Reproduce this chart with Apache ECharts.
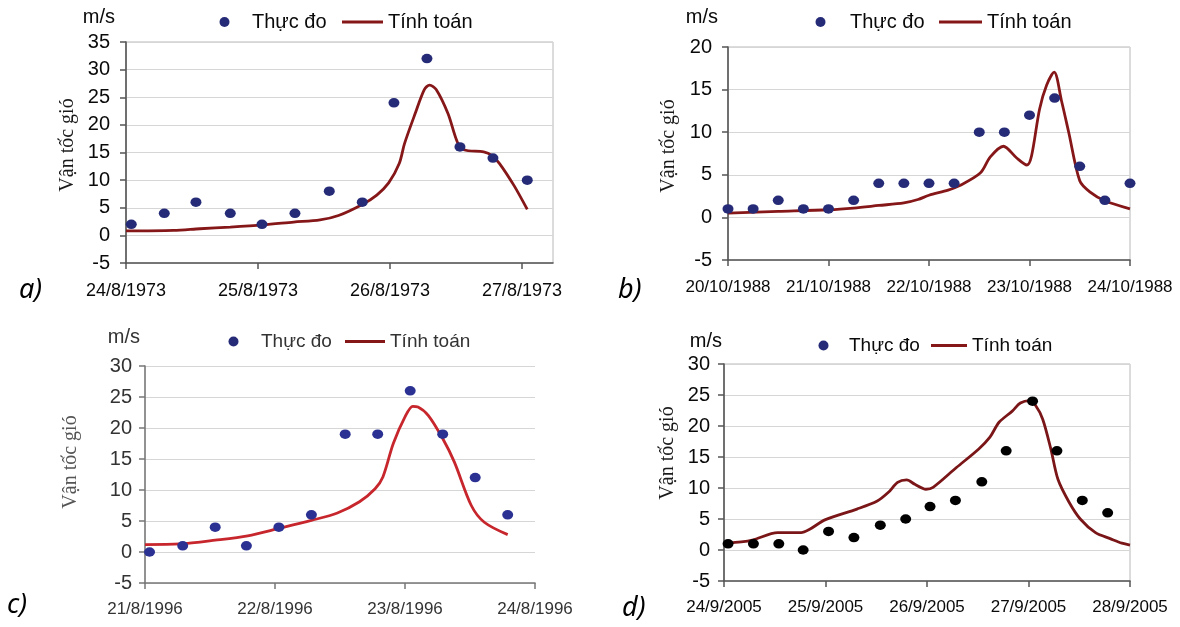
<!DOCTYPE html>
<html>
<head>
<meta charset="utf-8">
<script src="https://cdn.jsdelivr.net/npm/echarts@6/dist/echarts.min.js"></script>
<style>
  html, body { margin: 0; padding: 0; background: #fff; }
  #chart { width: 1180px; height: 627px; }
</style>
</head>
<body>
<div id="chart"></div>
<script>
// x values are days counted from the first date on each axis

// a) 24/8/1973
var datesA = ['24/8/1973', '25/8/1973', '26/8/1973', '27/8/1973']
var obsDayA = [0.04, 0.29, 0.53, 0.79, 1.03, 1.28, 1.54, 1.79, 2.03, 2.28, 2.53, 2.78, 3.04]
var obsA = [2, 4, 6, 4, 2, 4, 8, 6, 24, 32, 16, 14, 10]
var calcDayA = [0, 0.36, 0.56, 0.79, 1.04, 1.27, 1.47, 1.61, 1.79, 1.9, 1.99, 2.07, 2.11, 2.19, 2.26, 2.30, 2.35, 2.44, 2.51, 2.56, 2.71, 2.77, 2.83, 2.94, 3.04]
var calcA = [0.8, 0.9, 1.2, 1.5, 1.9, 2.4, 2.8, 3.6, 5.6, 7.3, 9.5, 13, 16.6, 22, 26.4, 27.2, 26.4, 22, 16.9, 15.5, 15.1, 14.5, 13, 9, 4.7]

// b) 20/10/1988
var datesB = ['20/10/1988', '21/10/1988', '22/10/1988', '23/10/1988', '24/10/1988']
var obsDayB = [0, 0.25, 0.5, 0.75, 1, 1.25, 1.5, 1.75, 2, 2.25, 2.5, 2.75, 3, 3.25, 3.5, 3.75, 4]
var obsB = [1, 1, 2, 1, 1, 2, 4, 4, 4, 4, 10, 10, 12, 14, 6, 2, 4]
var calcDayB = [0, 0.5, 1.0, 1.25, 1.5, 1.75, 1.89, 2.0, 2.19, 2.3, 2.51, 2.61, 2.74, 2.87, 2.975, 3.02, 3.1, 3.17, 3.245, 3.32, 3.39, 3.5, 3.6, 3.75, 4.0]
var calcB = [0.5, 0.7, 0.9, 1.1, 1.4, 1.7, 2.1, 2.6, 3.2, 3.7, 5.2, 7.1, 8.35, 7.0, 6.15, 7.2, 12.7, 15.5, 17.05, 13.6, 10, 4.3, 3.0, 1.95, 1.0]

// c) 21/8/1996
var datesC = ['21/8/1996', '22/8/1996', '23/8/1996', '24/8/1996']
var obsDayC = [0.035, 0.29, 0.54, 0.78, 1.03, 1.28, 1.54, 1.79, 2.04, 2.29, 2.54, 2.79]
var obsC = [0, 1, 4, 1, 4, 6, 19, 19, 26, 19, 12, 6]
var calcDayC = [0, 0.27, 0.54, 0.79, 1.03, 1.28, 1.48, 1.65, 1.77, 1.83, 1.91, 2.0, 2.06, 2.1, 2.18, 2.29, 2.38, 2.51, 2.61, 2.79]
var calcC = [1.2, 1.3, 1.9, 2.6, 3.8, 5.1, 6.3, 8.1, 10.2, 12.1, 17.5, 21.8, 23.5, 23.4, 22, 18.3, 14.5, 7.5, 4.8, 2.8]

// d) 24/9/2005
var datesD = ['24/9/2005', '25/9/2005', '26/9/2005', '27/9/2005', '28/9/2005']
var obsDayD = [0.04, 0.29, 0.54, 0.78, 1.03, 1.28, 1.54, 1.79, 2.03, 2.28, 2.54, 2.78, 3.04, 3.28, 3.53, 3.78]
var obsD = [1, 1, 1, 0, 3, 2, 4, 5, 7, 8, 11, 16, 24, 16, 8, 6]
var calcDayD = [0.02, 0.17, 0.28, 0.53, 0.76, 0.84, 1.0, 1.31, 1.51, 1.62, 1.71, 1.8, 1.88, 1.99, 2.06, 2.29, 2.51, 2.62, 2.71, 2.84, 2.92, 3.01, 3.07, 3.14, 3.22, 3.29, 3.4, 3.51, 3.66, 3.81, 3.92, 4.0]
var calcD = [1.1, 1.3, 1.6, 2.8, 2.8, 3.3, 4.9, 6.6, 7.9, 9.3, 10.9, 11.3, 10.6, 9.8, 10.1, 13.3, 16.3, 18.2, 20.6, 22.4, 23.7, 24.1, 23.3, 21.1, 16.3, 11.4, 7.7, 5.0, 2.8, 1.8, 1.1, 0.8]

var OBS = 'Thực đo'
var CALC = 'Tính toán'
var SANS = 'Liberation Sans'

function zip (xs, ys) {
  return xs.map(function (x, i) { return [x, ys[i]] })
}

// layout of the four panels
var panels = [
  { dates: datesA, obsX: obsDayA, obs: obsA, calcX: calcDayA, calc: calcA,
    grid: { left: 126, top: 42, width: 427, height: 221 }, border: 1,
    xMax: 3.235, yMax: 35, xMargin: 19, yMargin: 16, xfs: 18, yfs: 20, text: '#0a0a0a', axis: '#555',
    dot: '#252b77', line: '#861719', fs: 20,
    leg: { top: 17, dot: 220, pad: 17, line: 337, lw: 41 },
    unit: [115, 17], title: [68, 145], letter: ['a)', 19, 290] },
  { dates: datesB, obsX: obsDayB, obs: obsB, calcX: calcDayB, calc: calcB,
    grid: { left: 728, top: 47, width: 402, height: 213 }, border: 1,
    xMax: 4, yMax: 20, xMargin: 19, yMargin: 16, xfs: 17, yfs: 20, text: '#0a0a0a', axis: '#555',
    dot: '#252b77', line: '#861719', fs: 20,
    leg: { top: 17, dot: 816, pad: 19, line: 934, lw: 43 },
    unit: [718, 17], title: [669, 146], letter: ['b)', 618, 290] },
  { dates: datesC, obsX: obsDayC, obs: obsC, calcX: calcDayC, calc: calcC,
    grid: { left: 145, top: 366, width: 390, height: 217 }, border: 0,
    xMax: 3, yMax: 30, xMargin: 18, yMargin: 13, xfs: 17, yfs: 20, text: '#333', axis: '#777',
    dot: '#2b3192', line: '#c6262c', fs: 19,
    leg: { top: 337, dot: 229, pad: 17, line: 340, lw: 40 },
    unit: [140, 337], title: [71, 462], letter: ['c)', 7, 605] },
  { dates: datesD, obsX: obsDayD, obs: obsD, calcX: calcDayD, calc: calcD,
    grid: { left: 724, top: 364, width: 406, height: 217 }, border: 1,
    xMax: 4, yMax: 30, xMargin: 18, yMargin: 14, xfs: 17, yfs: 20, text: '#0a0a0a', axis: '#555',
    dot: '#000', line: '#7a1618', fs: 19,
    leg: { top: 341, dot: 819, pad: 15, line: 926, lw: 36 },
    unit: [722, 341], title: [668, 453], letter: ['d)', 622, 608] }
]

var option = {
  animation: false,
  backgroundColor: '#fff',
  textStyle: { fontFamily: SANS },
  grid: [], xAxis: [], yAxis: [], series: [], legend: [], graphic: []
}

panels.forEach(function (p, i) {
  var ticks = p.dates.map(function (d, k) { return k })
  option.grid.push(Object.assign({
    show: p.border > 0,
    borderColor: '#b8b8b8',
    borderWidth: p.border
  }, p.grid))

  option.xAxis.push({
    type: 'value',
    gridIndex: i,
    min: 0,
    max: p.xMax,
    interval: 1,
    axisLine: { onZero: false, lineStyle: { color: p.axis, width: 1.6 } },
    axisTick: { customValues: ticks, length: 6, lineStyle: { color: p.axis, width: 1.5 } },
    axisLabel: {
      customValues: ticks,
      margin: p.xMargin,
      fontSize: p.xfs,
      color: p.text,
      formatter: function (v) { return p.dates[Math.round(v)] || '' }
    },
    splitLine: { show: false }
  })

  option.yAxis.push({
    type: 'value',
    gridIndex: i,
    min: -5,
    max: p.yMax,
    interval: 5,
    axisLine: { show: true, lineStyle: { color: p.axis, width: 1.6 } },
    axisTick: { show: true, length: 6, lineStyle: { color: p.axis, width: 1.5 } },
    axisLabel: { margin: p.yMargin, fontSize: p.yfs, color: p.text },
    splitLine: { lineStyle: { color: '#d6d6d6', width: 1.2 } }
  })

  option.series.push({
    name: CALC,
    type: 'line',
    xAxisIndex: i,
    yAxisIndex: i,
    data: zip(p.calcX, p.calc),
    symbol: 'none',
    smooth: 0.3,
    itemStyle: { color: p.line },
    lineStyle: { color: p.line, width: 2.8 },
    z: 2
  })
  option.series.push({
    name: OBS,
    type: 'scatter',
    xAxisIndex: i,
    yAxisIndex: i,
    data: zip(p.obsX, p.obs),
    symbolSize: [11, 9.5],
    itemStyle: { color: p.dot, opacity: 1 },
    z: 3
  })

  // two legends per panel so dot and line keys can have different sizes
  option.legend.push({
    data: [{ name: OBS, icon: 'circle' }],
    left: p.leg.dot - 5.5,
    top: p.leg.top - 10,
    itemWidth: 11,
    itemHeight: 10,
    selectedMode: false,
    textStyle: { fontSize: p.fs, color: p.text, padding: [0, 0, 0, p.leg.pad] }
  })
  option.legend.push({
    data: [{ name: CALC, icon: 'rect' }],
    left: p.leg.line,
    top: p.leg.top - 10,
    itemWidth: p.leg.lw,
    itemHeight: 3,
    selectedMode: false,
    textStyle: { fontSize: p.fs, color: p.text }
  })

  option.graphic.push({
    type: 'text', x: p.unit[0], y: p.unit[1],
    style: { text: 'm/s', fontSize: 20, fontFamily: SANS, fill: p.text, align: 'right', verticalAlign: 'middle' }
  })
  option.graphic.push({
    type: 'text', x: p.title[0], y: p.title[1], rotation: Math.PI / 2,
    style: { text: 'Vận tốc gió', fontSize: 20, fontFamily: 'Liberation Serif', fill: i === 2 ? '#555' : '#1a1a1a', align: 'center', verticalAlign: 'middle' }
  })
  option.graphic.push({
    type: 'text', x: p.letter[1], y: p.letter[2],
    style: { text: p.letter[0], fontSize: 27, fontStyle: 'italic', fontFamily: 'Noto Sans', fill: '#000', align: 'left', verticalAlign: 'middle' }
  })
})

echarts.init(document.getElementById('chart')).setOption(option)
</script>
</body>
</html>
